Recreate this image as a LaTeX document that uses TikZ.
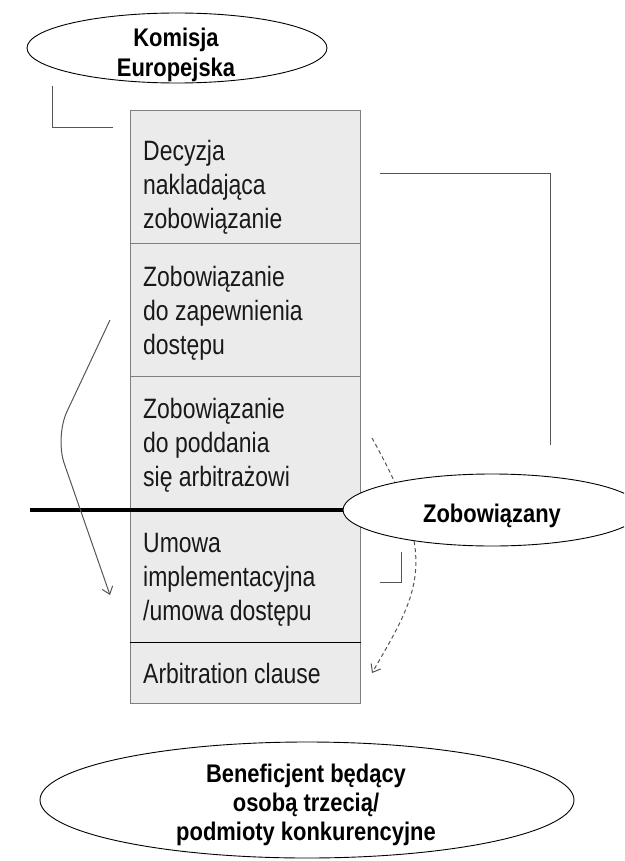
\documentclass[tikz,border=0pt]{standalone}
\usepackage{fontspec}
\setmainfont{Liberation Sans}[FakeStretch=0.82]
\newfontfamily\boldfam{Liberation Sans}[FakeStretch=0.86]
\usetikzlibrary{shapes.geometric,arrows.meta}
\definecolor{boxfill}{HTML}{EBEBEB}
\definecolor{boxline}{HTML}{7F7F7F}
\definecolor{conn}{HTML}{555555}
\begin{document}
\begin{tikzpicture}[x=1pt,y=-1pt,
  rowbox/.style={rectangle, fill=boxfill, draw=boxline, line width=1.2pt, minimum width=230pt, inner sep=0pt, anchor=north west},
  rowtext/.style={anchor=base west, align=left, inner sep=0pt, font=\fontsize{28}{34}\selectfont, text=black!90},
  ell/.style={ellipse, draw=black, line width=0.9pt, fill=white, inner sep=0pt},
  elltext/.style={anchor=base, align=center, inner sep=0pt, font=\boldfam\bfseries\fontsize{25.5}{30}\selectfont},
  conline/.style={draw=conn, line width=1pt},
  tip/.style={-{Straight Barb[length=7pt,width=11pt]}}
]
\useasboundingbox (0,0) rectangle (624,861);
\clip (0,0) rectangle (624,861);
% dashed connector (behind the ellipse)
\coordinate (e1) at (372,438);
\coordinate (e2) at (372,673);
\draw[conline, dash pattern=on 4pt off 3pt, tip] (e1) .. controls (440,560) and (420,590) .. (e2);
% box rows
\node[rowbox, minimum height=133pt] (r1) at (130,110) {};
\node[rowbox, minimum height=133pt] (r2) at (130,243) {};
\node[rowbox, minimum height=134pt] (r3) at (130,376) {};
\node[rowbox, minimum height=132pt] (r4) at (130,510) {};
\node[rowbox, minimum height=61pt] (r5) at (130,642) {};
\draw[line width=1pt] (r5.north west) -- (r5.north east);
% texts (anchor at the baseline of the last line)
\node[rowtext] (t1) at (143,228) {Decyzja\\nakladająca\\zobowiązanie};
\node[rowtext] (t2) at (143,354) {Zobowiązanie\\do zapewnienia\\dostępu};
\node[rowtext] (t3) at (143,486) {Zobowiązanie\\do poddania\\się arbitrażowi};
\node[rowtext] (t4) at (143,620) {Umowa\\implementacyjna\\/umowa dostępu};
\node[rowtext] (t5) at (143,683) {Arbitration clause};
% ellipses
\node[ell, minimum width=300pt, minimum height=70pt] (ke) at (177,48) {};
\node[elltext] (kt) at (176,77) {Komisja\\Europejska};
\node[ell, minimum width=298pt, minimum height=72pt] (zob) at (492,510) {};
\node[elltext] (zt) at (492,522) {Zobowiązany};
\node[ell, minimum width=534pt, minimum height=116pt] (ben) at (307,800) {};
\node[elltext, font=\boldfam\bfseries\fontsize{25.5}{29}\selectfont] (bt) at (306,840) {Beneficjent będący\\osobą trzecią/\\podmioty konkurencyjne};
% thick line
\coordinate (f1) at (30,510);
\draw[line width=3.2pt] (f1) -- (zob.west);
% brackets
\coordinate (a1) at (52,86);
\coordinate (a2) at (113,128);
\draw[conline] (a1) |- (a2);
\coordinate (b1) at (380,174);
\coordinate (b2) at (550,445);
\draw[conline] (b1) -| (b2);
\coordinate (c1) at (401,552);
\coordinate (c2) at (380,582);
\draw[conline] (c1) |- (c2);
% left arrow
\coordinate (d1) at (110,320);
\coordinate (d2) at (110,595);
\draw[conline, tip, rounded corners=28pt] (d1) -- (55,437) -- (d2);
\end{tikzpicture}
\end{document}
